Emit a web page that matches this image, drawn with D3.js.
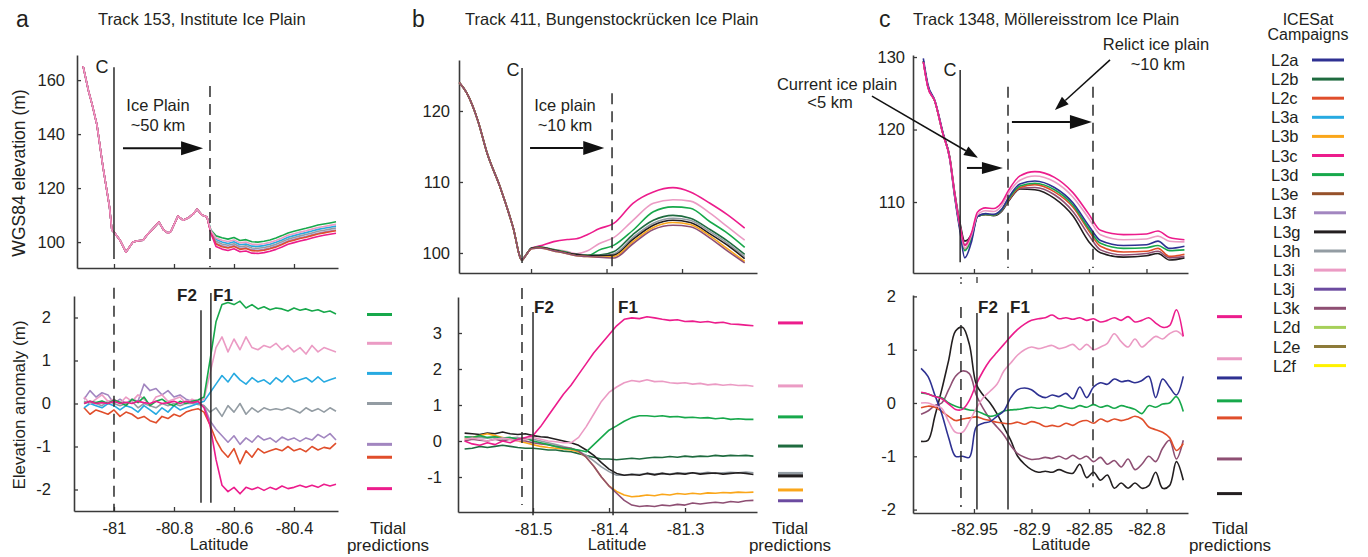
<!DOCTYPE html>
<html>
<head>
<meta charset="utf-8">
<script src="https://cdn.jsdelivr.net/npm/d3@7"></script>
<style>
  body { margin: 0; background: #fff; }
  svg text { font-family: "Liberation Sans", Arial, sans-serif; fill: #231f20; }
</style>
</head>
<body>
<script>
// ICESat campaigns and their colours (legend)
var campaigns = ["L2a","L2b","L2c","L3a","L3b","L3c","L3d","L3e","L3f","L3g","L3h","L3i","L3j","L3k","L2d","L2e","L2f"];
var campaignColors = ["#2e3192","#1f6b3f","#e04e2b","#27aae1","#faa61a","#ec1c8c","#17a84b","#96512a",
                      "#a286c0","#231f20","#939ca3","#eb9bc4","#6c4ba0","#8e4f73","#a6d05a","#8d7b3a","#fff200"];

// ---------- panel a : Track 153 ----------
var aTopLat = [-81.103,-81.085,-81.073,-81.057,-81.037,-81.015,-81.007,-80.997,-80.98,-80.96,-80.937,-80.92,
  -80.903,-80.89,-80.87,-80.85,-80.835,-80.82,-80.81,-80.787,-80.77,-80.753,-80.735,-80.723,-80.707,-80.69,
  -80.677,-80.66,-80.64,-80.62,-80.60,-80.58,-80.56,-80.54,-80.52,-80.50,-80.48,-80.46,-80.44,-80.42,-80.40,
  -80.38,-80.36,-80.34,-80.32,-80.30,-80.28,-80.26];
// upstream part, same for every campaign
var aTopCommon = [165.2,156,151,143.5,128,113,104.4,103.3,100.7,96.3,100,100.5,100.7,102.6,105,107.4,104.5,
  103.3,104,109.6,108.1,108.9,110.5,112.2,110,109.3];
// downstream of the ice plain edge
var aTopL3d = [104.5,102.3,101.6,101.1,101.7,100.6,100.9,100.1,100.0,100.3,100.8,101.5,102.4,103.4,104.0,104.6,105.1,105.7,106.3,106.7,107.1,107.5];
var aTopL3i = [104.2,101.5,100.7,100.2,100.8,99.7,100.0,99.2,99.1,99.4,99.9,100.6,101.5,102.5,103.1,103.7,104.2,104.8,105.4,105.8,106.2,106.6];
var aTopL3a = [104.0,101.0,100.0,99.5,100.1,99.0,99.3,98.5,98.4,98.7,99.2,99.9,100.8,101.8,102.4,103.0,103.5,104.1,104.7,105.1,105.5,105.9];
var aTopL3h = [103.8,100.3,99.3,98.8,99.4,98.3,98.6,97.8,97.7,98.0,98.5,99.2,100.1,101.1,101.7,102.3,102.8,103.4,104.0,104.4,104.8,105.2];
var aTopL3f = [103.6,99.6,98.6,98.1,98.7,97.6,97.9,97.1,97.0,97.3,97.8,98.5,99.4,100.4,101.0,101.6,102.1,102.7,103.3,103.7,104.1,104.5];
var aTopL2c = [103.5,99.3,98.3,97.8,98.4,97.3,97.6,96.8,96.7,97.0,97.5,98.2,99.1,100.1,100.7,101.3,101.8,102.4,103.0,103.4,103.8,104.2];
var aTopL3c = [103.3,98.4,97.4,96.9,97.5,96.4,96.7,95.9,95.8,96.1,96.6,97.3,98.2,99.2,99.8,100.4,100.9,101.5,102.1,102.5,102.9,103.3];

var aBotLat = [-81.10,-81.08,-81.06,-81.04,-81.02,-81.00,-80.98,-80.96,-80.94,-80.92,-80.90,-80.88,-80.86,-80.84,
  -80.82,-80.80,-80.78,-80.76,-80.74,-80.72,-80.70,-80.68,-80.66,-80.64,-80.62,-80.60,-80.58,-80.56,-80.54,-80.52,
  -80.50,-80.48,-80.46,-80.44,-80.42,-80.40,-80.38,-80.36,-80.34,-80.32,-80.30,-80.28,-80.26];
var aBotL3d = [0.0,0.05,0.02,0.06,0.0,0.08,0.03,-0.05,0.1,0.02,0.15,-0.05,0.05,0.1,0.0,-0.05,0.05,0.0,0.05,0.08,
  0.15,1.0,1.9,2.3,2.35,2.3,2.38,2.22,2.3,2.2,2.25,2.18,2.22,2.2,2.15,2.22,2.17,2.2,2.15,2.18,2.12,2.15,2.08];
var aBotL3i = [0.15,0.0,0.1,0.2,0.05,0.1,0.0,0.15,0.05,0.2,0.1,-0.05,0.15,0.2,0.05,0.1,0.15,0.0,0.1,0.05,
  0.1,0.7,1.3,1.55,1.2,1.5,1.25,1.55,1.3,1.25,1.35,1.3,1.4,1.25,1.35,1.2,1.3,1.15,1.35,1.2,1.3,1.25,1.2];
var aBotL3a = [-0.1,0.0,-0.05,-0.1,0.0,-0.05,-0.15,-0.05,-0.1,-0.2,-0.05,-0.15,-0.25,-0.1,-0.2,-0.05,-0.15,-0.1,-0.05,0.0,
  0.05,0.25,0.45,0.65,0.5,0.7,0.55,0.45,0.6,0.5,0.55,0.45,0.6,0.5,0.65,0.5,0.55,0.6,0.5,0.62,0.5,0.55,0.6];
var aBotL3h = [0.05,0.0,0.0,-0.05,0.05,0.0,-0.05,0.0,0.05,-0.1,0.0,-0.05,-0.1,0.0,-0.05,0.0,-0.05,0.0,0.0,-0.02,
  -0.05,-0.2,-0.1,-0.3,-0.05,-0.2,0.0,-0.25,-0.1,-0.2,-0.1,-0.15,-0.12,-0.15,-0.1,-0.15,-0.22,-0.1,-0.18,-0.12,-0.2,-0.1,-0.18];
var aBotL3f = [0.1,0.3,0.15,0.25,0.2,0.0,0.1,0.0,0.1,0.05,0.45,0.3,0.35,0.2,0.3,0.15,0.2,0.1,0.05,0.0,
  -0.05,-0.4,-0.6,-0.75,-0.9,-0.75,-0.95,-0.8,-0.9,-0.75,-0.85,-0.8,-0.9,-0.78,-0.85,-0.8,-0.88,-0.8,-0.85,-0.72,-0.8,-0.7,-0.85];
var aBotL2c = [-0.1,-0.25,-0.15,-0.2,-0.25,-0.15,-0.3,-0.2,-0.25,-0.35,-0.3,-0.4,-0.45,-0.3,-0.35,-0.25,-0.3,-0.2,-0.15,-0.12,
  -0.2,-0.5,-0.85,-1.1,-1.25,-1.05,-1.4,-1.1,-1.25,-1.05,-1.15,-1.1,-1.05,-1.1,-1.0,-1.1,-1.05,-1.12,-1.0,-1.08,-1.02,-1.05,-0.92];
var aBotL3c = [0.0,0.05,0.0,0.02,0.0,0.05,0.0,0.03,0.0,0.05,0.02,0.0,0.05,0.0,0.02,0.05,0.0,0.05,0.02,0.05,
  -0.1,-0.5,-1.3,-1.9,-2.05,-1.95,-2.1,-1.95,-2.0,-1.95,-2.02,-1.95,-2.0,-1.92,-1.98,-1.95,-1.9,-1.95,-1.9,-1.95,-1.88,-1.92,-1.88];

var aTidal = [2.07, 1.4, 0.7, 0.0, -0.95, -1.25, -1.98];
var aTidalIds = ["L3d","L3i","L3a","L3h","L3f","L2c","L3c"];

// ---------- panel b : Track 411 ----------
var bTopLat = [-81.595,-81.585,-81.57,-81.558,-81.541,-81.524,-81.512,-81.508,-81.499,-81.488,-81.47,-81.452,
  -81.44,-81.425,-81.41,-81.39,-81.365,-81.338,-81.312,-81.289,-81.263,-81.24,-81.217];
var bTopL3c = [124,122.5,118.5,114,109.3,103.7,99,99.5,100.7,101.0,101.6,101.9,102.0,102.6,103.4,104.2,107.0,108.6,109.2,108.6,107.0,105.4,103.5];
var bTopL3i = [124,122.5,118.5,114,109.3,103.7,99,99.5,100.7,100.8,100.5,100.2,99.9,100.3,101.3,102.2,104.6,107.0,107.5,107.3,105.6,103.7,101.8];
var bTopL3d = [124,122.5,118.5,114,109.3,103.7,99,99.5,100.7,100.8,100.5,100.1,99.7,99.6,100.4,101.1,103.2,105.8,106.5,106.3,104.4,102.8,100.8];
var bTopL2b = [124,122.5,118.5,114,109.3,103.7,99,99.5,100.7,100.8,100.4,100.0,99.8,99.7,99.7,100.2,102.6,104.6,105.3,104.9,103.3,101.7,99.8];
var bTopL3h = [124,122.5,118.5,114,109.3,103.7,99,99.5,100.7,100.8,100.4,100.0,99.8,99.6,99.6,99.9,102.2,104.2,104.9,104.6,103.0,101.4,99.5];
var bTopL3g = [124,122.5,118.5,114,109.3,103.7,99,99.5,100.7,100.8,100.4,100.0,99.8,99.6,99.6,99.7,101.9,103.9,104.6,104.3,102.7,101.1,99.2];
var bTopL3b = [124,122.5,118.5,114,109.3,103.7,99,99.5,100.6,100.7,100.3,99.9,99.6,99.5,99.4,99.5,101.6,103.6,104.3,104.0,102.4,100.6,98.8];
var bTopL3k = [124,122.5,118.5,114,109.3,103.7,99,99.5,100.6,100.7,100.3,99.9,99.6,99.5,99.4,99.3,101.3,103.3,103.9,103.7,102.1,100.3,98.6];

var bBotLat = [-81.59,-81.58,-81.57,-81.56,-81.55,-81.54,-81.53,-81.52,-81.51,-81.50,-81.49,-81.48,-81.47,-81.46,
  -81.45,-81.44,-81.43,-81.42,-81.41,-81.40,-81.39,-81.38,-81.37,-81.36,-81.35,-81.34,-81.33,-81.32,-81.31,-81.30,
  -81.29,-81.28,-81.27,-81.26,-81.25,-81.24,-81.23,-81.22,-81.21];
var bBotL3c = [0.0,-0.08,-0.12,-0.05,-0.1,0.0,-0.05,0.05,0.1,0.15,0.4,0.7,1.0,1.3,1.55,1.85,2.15,2.45,2.7,2.95,
  3.2,3.38,3.42,3.4,3.45,3.42,3.38,3.35,3.37,3.32,3.33,3.3,3.32,3.28,3.3,3.25,3.24,3.22,3.2];
var bBotL3i = [0.05,0.08,0.05,0.0,0.05,0.08,0.05,0.0,0.05,0.1,0.05,0.0,-0.02,-0.05,-0.05,0.1,0.4,0.75,1.1,1.35,
  1.5,1.62,1.68,1.65,1.7,1.65,1.66,1.62,1.6,1.62,1.58,1.6,1.56,1.58,1.55,1.57,1.54,1.55,1.52];
var bBotL3d = [0.12,0.1,0.15,0.1,0.12,0.08,0.1,0.05,0.08,0.0,-0.05,-0.1,-0.15,-0.2,-0.22,-0.25,-0.3,-0.1,0.1,0.3,
  0.42,0.55,0.65,0.7,0.7,0.68,0.7,0.67,0.68,0.65,0.66,0.64,0.65,0.62,0.64,0.6,0.62,0.6,0.6];
var bBotL2b = [-0.22,-0.2,-0.15,-0.18,-0.15,-0.12,-0.15,-0.18,-0.2,-0.2,-0.22,-0.25,-0.25,-0.28,-0.3,-0.35,-0.4,-0.45,-0.5,-0.5,
  -0.52,-0.5,-0.48,-0.5,-0.47,-0.45,-0.46,-0.43,-0.45,-0.42,-0.44,-0.42,-0.43,-0.4,-0.42,-0.4,-0.41,-0.4,-0.42];
var bBotL3h = [0.1,0.12,0.1,0.08,0.1,0.05,0.08,0.1,0.05,0.05,0.0,-0.05,-0.1,-0.15,-0.2,-0.28,-0.4,-0.55,-0.72,-0.85,
  -0.95,-0.95,-0.92,-0.93,-0.9,-0.92,-0.9,-0.92,-0.88,-0.9,-0.88,-0.9,-0.87,-0.9,-0.88,-0.87,-0.88,-0.86,-0.88];
var bBotL3g = [0.22,0.2,0.18,0.22,0.2,0.25,0.2,0.18,0.2,0.15,0.12,0.1,0.05,0.0,-0.05,-0.12,-0.25,-0.4,-0.6,-0.78,
  -0.9,-0.95,-0.93,-0.95,-0.9,-0.94,-0.9,-0.93,-0.9,-0.92,-0.88,-0.92,-0.9,-0.89,-0.92,-0.9,-0.88,-0.9,-0.93];
var bBotL3b = [0.05,0.1,0.15,0.2,0.15,0.1,0.05,0.0,-0.05,-0.1,-0.15,-0.18,-0.2,-0.22,-0.25,-0.3,-0.45,-0.7,-1.0,-1.25,
  -1.4,-1.5,-1.55,-1.53,-1.5,-1.52,-1.48,-1.5,-1.46,-1.48,-1.45,-1.47,-1.44,-1.45,-1.43,-1.44,-1.42,-1.43,-1.42];
var bBotL3k = [0.0,0.05,0.02,0.0,0.05,0.0,0.05,0.02,0.0,-0.05,-0.08,-0.1,-0.15,-0.18,-0.2,-0.28,-0.45,-0.7,-1.0,-1.25,
  -1.45,-1.65,-1.78,-1.82,-1.8,-1.82,-1.78,-1.8,-1.76,-1.78,-1.72,-1.75,-1.72,-1.7,-1.72,-1.68,-1.7,-1.66,-1.65];

var bTidal = [3.28, 1.53, 0.67, -0.14, -0.9, -0.97, -1.36, -1.66];
var bTidalIds = ["L3c","L3i","L3d","L2b","L3h","L3g","L3b","L3j"];

// ---------- panel c : Track 1348 ----------
var cTopLat = [-82.994,-82.99,-82.984,-82.977,-82.971,-82.967,-82.962,-82.958,-82.952,-82.947,-82.94,-82.933,
  -82.926,-82.92,-82.91,-82.897,-82.88,-82.864,-82.85,-82.84,-82.82,-82.8,-82.79,-82.78,-82.767];
var cTopL3c = [129.3,125.8,123.9,119.4,116,111.4,106.6,104.0,105.8,108.6,109.2,109.1,109.9,111.6,113.6,114.2,113.4,111.3,108.3,106.1,105.5,105.6,106.0,105.1,104.8];
var cTopL3i = [129.3,125.8,123.9,119.4,116,111.3,106.5,103.6,105.5,108.2,108.8,108.7,109.5,111.2,113.0,113.6,112.8,110.7,107.7,105.5,104.8,104.9,105.3,104.6,104.5];
var cTopL2a = [129.8,126.2,124.0,119.6,115.9,111.0,105.8,102.3,104.6,108.0,108.4,108.3,109.0,110.6,112.5,112.9,112.0,109.9,106.7,104.7,104.0,104.1,104.6,103.6,103.9];
var cTopL3d = [129.4,125.9,123.9,119.4,116,111.2,106.2,103.3,105.0,108.0,108.3,108.2,108.9,110.4,112.2,112.6,111.7,109.6,106.3,104.3,103.6,103.7,104.0,103.3,103.4];
var cTopL2c = [129.4,125.9,123.9,119.4,116,111.2,106.3,103.5,105.1,108.0,108.3,108.2,108.9,110.3,112.0,112.4,111.4,109.3,106.0,103.9,103.1,103.2,103.6,102.5,102.8];
var cTopL3k = [129.4,125.9,123.9,119.4,116.1,111.4,106.7,104.1,105.4,108.0,108.3,108.2,108.8,110.2,111.9,112.0,111.0,108.7,105.4,103.4,102.7,102.9,103.2,102.3,102.5];
var cTopL3g = [129.4,125.9,123.9,119.5,116.2,111.6,107.0,104.6,105.6,108.0,108.3,108.1,108.7,110.1,111.8,111.7,110.5,108.1,104.5,103.0,102.4,102.6,102.9,102.0,102.3];

var cBotLat = [-82.996,-82.990,-82.984,-82.978,-82.972,-82.966,-82.960,-82.954,-82.948,-82.942,-82.936,-82.930,
  -82.924,-82.918,-82.912,-82.906,-82.900,-82.894,-82.888,-82.882,-82.876,-82.870,-82.864,-82.858,-82.852,-82.846,
  -82.840,-82.834,-82.828,-82.822,-82.816,-82.810,-82.804,-82.798,-82.792,-82.786,-82.780,-82.774,-82.768];
var cBotL3c = [0.2,0.17,0.12,0.08,-0.02,-0.12,-0.12,0.05,0.35,0.6,0.8,0.95,1.1,1.25,1.38,1.48,1.55,1.58,1.6,1.65,
  1.58,1.6,1.57,1.6,1.55,1.58,1.52,1.55,1.6,1.55,1.62,1.52,1.55,1.6,1.5,1.42,1.45,1.75,1.25];
var cBotL3i = [0.0,0.0,-0.05,-0.1,-0.35,-0.55,-0.55,-0.35,-0.1,0.1,0.22,0.35,0.6,0.75,0.9,1.0,1.05,1.02,1.05,1.08,
  1.02,1.05,1.1,1.0,1.1,1.0,1.05,1.12,1.3,1.15,1.05,1.2,1.05,1.15,1.25,1.2,1.3,1.35,1.25];
var cBotL2a = [0.65,0.5,0.15,-0.2,-0.65,-1.0,-1.0,-1.02,-0.45,-0.38,-0.35,-0.25,-0.15,0.1,0.25,0.28,0.25,0.15,0.1,0.15,
  0.12,0.18,0.08,0.3,0.1,0.3,0.38,0.35,0.45,0.4,0.42,0.38,0.42,0.5,0.1,0.45,0.3,0.15,0.5];
var cBotL3d = [0.19,0.17,0.12,0.1,0.0,-0.06,-0.1,-0.13,-0.15,-0.2,-0.25,-0.22,-0.15,-0.13,-0.12,-0.1,-0.08,-0.1,-0.08,-0.1,
  -0.05,-0.08,-0.1,-0.05,-0.08,-0.03,-0.08,-0.05,-0.1,-0.05,-0.08,-0.12,-0.2,-0.05,-0.08,-0.02,0.0,0.12,-0.16];
var cBotL2c = [-0.09,-0.06,-0.08,-0.16,-0.25,-0.33,-0.3,-0.28,-0.26,-0.3,-0.33,-0.36,-0.38,-0.39,-0.36,-0.4,-0.35,-0.38,-0.44,-0.42,
  -0.44,-0.38,-0.42,-0.35,-0.33,-0.38,-0.3,-0.35,-0.3,-0.33,-0.3,-0.25,-0.3,-0.45,-0.5,-0.55,-0.65,-0.89,-0.76];
var cBotL3k = [-0.21,-0.15,-0.05,0.0,0.25,0.5,0.6,0.55,0.15,-0.1,-0.3,-0.45,-0.6,-0.8,-0.95,-1.02,-1.06,-1.05,-1.02,-1.04,
  -1.0,-1.05,-0.98,-1.05,-1.0,-1.1,-1.02,-1.15,-1.08,-1.2,-1.05,-1.25,-1.15,-1.0,-1.1,-0.85,-0.7,-1.05,-0.7];
var cBotL3g = [-0.72,-0.7,-0.25,0.25,0.8,1.35,1.42,1.1,0.35,0.15,0.0,-0.2,-0.45,-0.7,-1.0,-1.15,-1.25,-1.3,-1.28,-1.3,
  -1.25,-1.3,-1.32,-1.15,-1.4,-1.3,-1.45,-1.35,-1.6,-1.5,-1.6,-1.5,-1.6,-1.55,-1.3,-1.6,-1.55,-1.1,-1.45];

var cTidal = [1.62, 0.83, 0.47, 0.04, -0.28, -1.05, -1.7];
var cTidalIds = ["L3c","L3i","L2a","L3d","L2c","L3k","L3g"];

// ---------- drawing ----------
var svg = d3.select("body").append("svg").attr("width", 1368).attr("height", 557);

function col(id) { return campaignColors[campaigns.indexOf(id)]; }
function fmt(d) { return String(d); }

// one plot: axes + campaign lines
function plot(p) {
  var x = d3.scaleLinear().domain(p.xDomain).range(p.xRange);
  var y = d3.scaleLinear().domain(p.yDomain).range(p.yRange);

  var gx = svg.append("g").attr("transform", "translate(0," + p.yRange[0] + ")")
    .call(d3.axisBottom(x).tickValues(p.xTicks).tickSizeInner(-4).tickSizeOuter(0)
      .tickPadding(p.xPad).tickFormat(p.xLabels ? fmt : ""));
  var gy = svg.append("g").attr("transform", "translate(" + p.xRange[0] + ",0)")
    .call(d3.axisLeft(y).tickValues(p.yTicks).tickSizeInner(-4).tickSizeOuter(0)
      .tickPadding(p.yPad).tickFormat(fmt));
  [gx, gy].forEach(function(g) {
    g.select(".domain").attr("stroke", "#3a3a3a").attr("stroke-width", 1.6);
    g.selectAll(".tick line").attr("stroke", "#3a3a3a").attr("stroke-width", 1.3);
    g.selectAll(".tick text").attr("font-size", 16.5).attr("fill", "#231f20")
      .attr("font-family", "Liberation Sans, Arial, sans-serif");
  });

  var line = d3.line().x(function(d) { return x(d[0]); }).y(function(d) { return y(d[1]); })
    .curve(p.curve || d3.curveLinear);
  p.series.forEach(function(s) {
    var pts = p.lat.map(function(d, i) { return [d, s.values[i]]; });
    svg.append("path").datum(pts).attr("d", line)
      .attr("fill", "none").attr("stroke", col(s.id)).attr("stroke-width", 1.6)
      .attr("stroke-linejoin", "round");
  });

  // vertical markers (grounding line C, flexure limits F1/F2, ice plain edges)
  (p.marks || []).forEach(function(m) {
    svg.append("line")
      .attr("x1", x(m.lat)).attr("x2", x(m.lat))
      .attr("y1", y(m.top)).attr("y2", y(m.bottom))
      .attr("stroke", "#2a2a2a").attr("stroke-width", 1.5)
      .attr("stroke-dasharray", m.dash ? "11,7" : null);
  });

  // arrows
  (p.arrows || []).forEach(function(a) {
    arrow(x(a.lat1), y(a.v1), x(a.lat2), y(a.v2), a.head, a.half, a.w);
  });

  return { x: x, y: y };
}

function arrow(x1, y1, x2, y2, head, half, w) {
  var dx = x2 - x1, dy = y2 - y1, len = Math.sqrt(dx * dx + dy * dy);
  var ux = dx / len, uy = dy / len;
  var bx = x2 - ux * head, by = y2 - uy * head;
  svg.append("line").attr("x1", x1).attr("y1", y1).attr("x2", bx).attr("y2", by)
    .attr("stroke", "#111").attr("stroke-width", w);
  svg.append("polygon")
    .attr("points", [[x2, y2], [bx - uy * half, by + ux * half], [bx + uy * half, by - ux * half]].join(" "))
    .attr("fill", "#111");
}

// tidal prediction ticks right of each lower plot
function tidal(yScale, values, ids, x1, x2) {
  values.forEach(function(v, i) {
    svg.append("line").attr("x1", x1).attr("x2", x2)
      .attr("y1", yScale(v)).attr("y2", yScale(v))
      .attr("stroke", col(ids[i])).attr("stroke-width", 3);
  });
}

function text(str, x, y, size, anchor, extra) {
  var t = svg.append("text").attr("x", x).attr("y", y).attr("font-size", size)
    .attr("text-anchor", anchor || "start").text(str);
  if (extra) t.attr("transform", extra);
  return t;
}

// panel a
plot({
  lat: aTopLat, xDomain: [-81.1233, -80.2533], xRange: [77, 338],
  yDomain: [90.4, 169.3], yRange: [268, 55],
  xTicks: [-81, -80.8, -80.6, -80.4], yTicks: [100, 120, 140, 160], xLabels: false, xPad: 10, yPad: 12,
  series: [
    { id: "L3d", values: aTopCommon.concat(aTopL3d) },
    { id: "L3a", values: aTopCommon.concat(aTopL3a) },
    { id: "L3h", values: aTopCommon.concat(aTopL3h) },
    { id: "L3f", values: aTopCommon.concat(aTopL3f) },
    { id: "L2c", values: aTopCommon.concat(aTopL2c) },
    { id: "L3c", values: aTopCommon.concat(aTopL3c) },
    { id: "L3i", values: aTopCommon.concat(aTopL3i) }
  ],
  marks: [
    { lat: -81.0, top: 164.8, bottom: 93.7 },
    { lat: -80.68, top: 157.8, bottom: 90.7, dash: true }
  ],
  arrows: [{ lat1: -80.97, v1: 134.8, lat2: -80.703, v2: 134.8, head: 22, half: 7, w: 2 }]
});
var aBot = plot({
  lat: aBotLat, xDomain: [-81.1333, -80.2533], xRange: [74, 338],
  yDomain: [-2.5, 2.5], yRange: [511, 296],
  xTicks: [-81, -80.8, -80.6, -80.4], yTicks: [-2, -1, 0, 1, 2], xLabels: true, xPad: 11, yPad: 23,
  series: [
    { id: "L3f", values: aBotL3f }, { id: "L2c", values: aBotL2c }, { id: "L3h", values: aBotL3h },
    { id: "L3a", values: aBotL3a }, { id: "L3i", values: aBotL3i }, { id: "L3d", values: aBotL3d },
    { id: "L3c", values: aBotL3c }
  ],
  marks: [
    { lat: -81.0, top: 2.69, bottom: -2.5, dash: true },
    { lat: -80.71, top: 2.17, bottom: -2.31 },
    { lat: -80.677, top: 2.57, bottom: -2.31 }
  ]
});
tidal(aBot.y, aTidal, aTidalIds, 367, 392);

// panel b
plot({
  lat: bTopLat, xDomain: [-81.5954, -81.2007], xRange: [459, 757],
  yDomain: [97.18, 127.18], yRange: [273, 60],
  xTicks: [-81.5, -81.4, -81.3], yTicks: [100, 110, 120], xLabels: false, xPad: 10, yPad: 9,
  curve: d3.curveMonotoneX,
  series: [
    { id: "L3c", values: bTopL3c }, { id: "L3i", values: bTopL3i }, { id: "L3d", values: bTopL3d },
    { id: "L2b", values: bTopL2b }, { id: "L3h", values: bTopL3h }, { id: "L3g", values: bTopL3g },
    { id: "L3b", values: bTopL3b }, { id: "L3k", values: bTopL3k }
  ],
  marks: [
    { lat: -81.5119, top: 126.06, bottom: 98.6 },
    { lat: -81.3927, top: 122.5, bottom: 97.6, dash: true }
  ],
  arrows: [{ lat1: -81.5013, v1: 114.8, lat2: -81.403, v2: 114.8, head: 21, half: 7, w: 2 }]
});
var bBot = plot({
  lat: bBotLat, xDomain: [-81.5987, -81.2053], xRange: [458, 757],
  yDomain: [-1.972, 4.0], yRange: [512, 297],
  xTicks: [-81.5, -81.4, -81.3], yTicks: [-1, 0, 1, 2, 3], xLabels: true, xPad: 11, yPad: 16,
  series: [
    { id: "L2b", values: bBotL2b }, { id: "L3h", values: bBotL3h }, { id: "L3g", values: bBotL3g },
    { id: "L3b", values: bBotL3b }, { id: "L3k", values: bBotL3k }, { id: "L3d", values: bBotL3d },
    { id: "L3i", values: bBotL3i }, { id: "L3c", values: bBotL3c }
  ],
  marks: [
    { lat: -81.5145, top: 4.25, bottom: -1.78, dash: true },
    { lat: -81.5, top: 3.58, bottom: -2.06 },
    { lat: -81.3947, top: 4.25, bottom: -2.06 }
  ]
});
tidal(bBot.y, bTidal, bTidalIds, 778, 803);

// panel c
plot({
  lat: cTopLat, xDomain: [-83.003, -82.7639], xRange: [913, 1188],
  yDomain: [100.21, 130.28], yRange: [273, 55],
  xTicks: [-82.95, -82.9, -82.85, -82.8], yTicks: [110, 120, 130], xLabels: false, xPad: 10, yPad: 8,
  curve: d3.curveMonotoneX,
  series: [
    { id: "L3g", values: cTopL3g }, { id: "L3k", values: cTopL3k }, { id: "L2c", values: cTopL2c },
    { id: "L3d", values: cTopL3d }, { id: "L2a", values: cTopL2a }, { id: "L3i", values: cTopL3i },
    { id: "L3c", values: cTopL3c }
  ],
  marks: [
    { lat: -82.962, top: 128.2, bottom: 101.7 },
    { lat: -82.9204, top: 125.9, bottom: 100.9, dash: true },
    { lat: -82.8465, top: 125.9, bottom: 100.9, dash: true }
  ],
  arrows: [
    { lat1: -83.0387, v1: 124.6, lat2: -82.9465, v2: 116.1, head: 14, half: 5, w: 1.5 },
    { lat1: -82.9561, v1: 114.7, lat2: -82.9248, v2: 114.7, head: 21, half: 6, w: 2 },
    { lat1: -82.8317, v1: 129.6, lat2: -82.8796, v2: 122.7, head: 14, half: 5, w: 1.5 },
    { lat1: -82.917, v1: 121.03, lat2: -82.8474, v2: 121.03, head: 22, half: 7, w: 2 }
  ]
});
var cBot = plot({
  lat: cBotLat, xDomain: [-83.003, -82.7639], xRange: [913, 1188],
  yDomain: [-2.064, 2.026], yRange: [513, 295],
  xTicks: [-82.95, -82.9, -82.85, -82.8], yTicks: [-2, -1, 0, 1, 2], xLabels: true, xPad: 10, yPad: 17,
  curve: d3.curveCatmullRom,
  series: [
    { id: "L3g", values: cBotL3g }, { id: "L3k", values: cBotL3k }, { id: "L2c", values: cBotL2c },
    { id: "L3d", values: cBotL3d }, { id: "L2a", values: cBotL2a }, { id: "L3i", values: cBotL3i },
    { id: "L3c", values: cBotL3c }
  ],
  marks: [
    { lat: -82.9613, top: 1.8, bottom: -1.95, dash: true },
    { lat: -82.9474, top: 1.69, bottom: -2.0 },
    { lat: -82.9204, top: 1.7, bottom: -2.0 },
    { lat: -82.8465, top: 2.21, bottom: -1.58, dash: true }
  ]
});
tidal(cBot.y, cTidal, cTidalIds, 1217, 1242);

// little line ends between the two c plots
svg.append("line").attr("x1", 961).attr("x2", 961).attr("y1", 277).attr("y2", 285)
  .attr("stroke", "#444").attr("stroke-width", 1.4).attr("stroke-dasharray", "2,3");
svg.append("line").attr("x1", 977).attr("x2", 977).attr("y1", 277).attr("y2", 283)
  .attr("stroke", "#444").attr("stroke-width", 1.4);

// panel letters and titles
text("a", 16, 27, 23);
text("Track 153, Institute Ice Plain", 98, 25, 16.5);
text("b", 412, 27, 23);
text("Track 411, Bungenstockrücken Ice Plain", 465, 25, 16.5);
text("c", 879, 27, 23);
text("Track 1348, Möllereisstrom Ice Plain", 913, 25, 16.5);

// y axis titles
text("WGS84 elevation (m)", 0, 0, 17.5, "middle", "translate(25,173) rotate(-90)");
text("Elevation anomaly (m)", 0, 0, 17, "middle", "translate(25,405) rotate(-90)");

// annotations in the upper plots
text("C", 102, 73, 18, "middle");
text("Ice Plain", 158, 111, 16.5, "middle");
text("~50 km", 158, 131, 16.5, "middle");
text("C", 513, 76, 18, "middle");
text("Ice plain", 565, 111, 16.5, "middle");
text("~10 km", 565, 131, 16.5, "middle");
text("C", 950, 76, 18, "middle");
text("Current ice plain", 837, 90, 16.5, "middle");
text("<5 km", 830, 108, 16.5, "middle");
text("Relict ice plain", 1156, 50, 16.5, "middle");
text("~10 km", 1158, 70, 16.5, "middle");

// flexure labels
[["F2", 187], ["F1", 223], ["F2", 544], ["F1", 628], ["F2", 988], ["F1", 1020]].forEach(function(f, i) {
  text(f[0], f[1], i < 2 ? 301 : 313, 17, "middle").attr("font-weight", "bold").attr("fill", "#1a1a1a");
});

// x titles and tidal captions
[[219, 388], [617, 790], [1061, 1230]].forEach(function(c) {
  text("Latitude", c[0], 550, 16.5, "middle");
  text("Tidal", c[1], 534, 17, "middle");
  text("predictions", c[1], 551, 17, "middle");
});

// legend
text("ICESat", 1308, 25, 16, "middle");
text("Campaigns", 1308, 40, 16, "middle");
campaigns.forEach(function(c, i) {
  var yy = 60 + i * 19.1;
  text(c, i < 8 ? 1271 : 1273, yy + 6, 16.5);
  svg.append("line").attr("x1", i < 8 ? 1312 : 1314).attr("x2", i < 8 ? 1344 : 1346)
    .attr("y1", yy).attr("y2", yy).attr("stroke", campaignColors[i]).attr("stroke-width", 3);
});
</script>
</body>
</html>
